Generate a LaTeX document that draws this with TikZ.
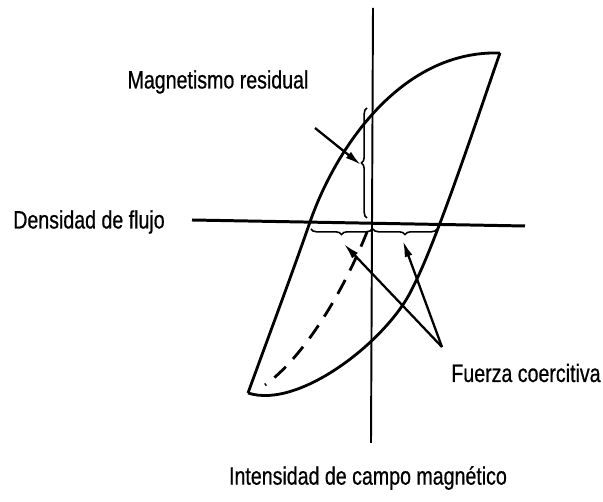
\documentclass[tikz,border=0pt]{standalone}
\usepackage{fontspec}
\setmainfont{Liberation Sans}[FakeStretch=0.78, FakeBold=0.6]
\usetikzlibrary{arrows.meta,decorations.pathreplacing}
\begin{document}
\begin{tikzpicture}[x=0.02cm, y=-0.02cm,
    font=\fontsize{14.3}{17}\selectfont,
    loop/.style={line width=1.6pt, line join=round},
    pointer/.style={line width=1.3pt, -{Latex[length=3.2mm, width=1.6mm]}},
    wavy/.style={line width=0.9pt, decorate, decoration={brace, amplitude=3.2pt}}]
    \useasboundingbox (0,0) rectangle (603,502);
    % Axes
    \draw[line width=1.1pt] (373,8) -- (371,443);
    \draw[line width=1.7pt] (192,220) -- (525,226);
    % Loop
    \coordinate (tip) at (500,53);
    \coordinate (low) at (248,393);
    \draw[loop] (low) .. controls (268,338) and (292,274) .. (310,222)
        .. controls (335,150) and (400,50) .. (tip);
    \draw[loop] (low) .. controls (300,410) and (390,338) .. (413,287)
        .. controls (438,239) and (485,95) .. (tip);
    \draw[loop, dashed, dash pattern=on 9pt off 6pt] (367,232) .. controls (340,300) and (300,360) .. (265,385);
    % Braces
    \draw[wavy] (367,218) -- (367,108);
    \draw[wavy] (372,229) -- (311,229);
    \draw[wavy] (437,229) -- (373,229);
    % Labels
    \node (resid) at (218,82) {Magnetismo residual};
    \node (flujo) at (89,222) {Densidad de flujo};
    \node (coerc) at (526,373) {Fuerza coercitiva};
    \node (campo) at (368,478) {Intensidad de campo magnético};
    % Arrows
    \coordinate (r0) at (315,128);
    \coordinate (r1) at (361,165);
    \coordinate (c0) at (442,347);
    \coordinate (c1) at (344,244);
    \coordinate (c2) at (403,241);
    \draw[pointer] (r0) -- (r1);
    \draw[pointer] (c0) -- (c1);
    \draw[pointer] (c0) -- (c2);
\end{tikzpicture}
\end{document}
